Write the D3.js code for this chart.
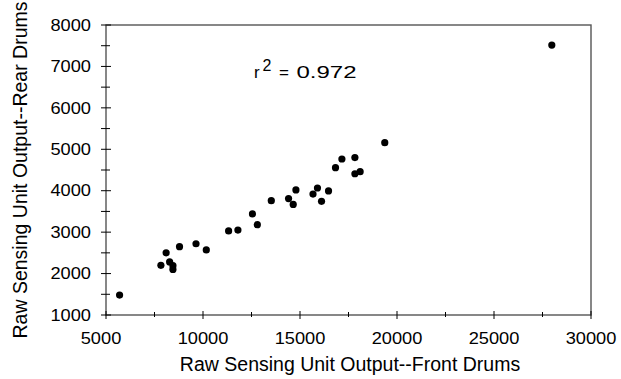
<!DOCTYPE html>
<meta charset="utf-8">
<style>
body { margin: 0; background: #fff; }
text { font-family: "Liberation Sans", Arial, sans-serif; fill: #000; }
</style>
<svg width="621" height="379"></svg>
<script src="https://cdn.jsdelivr.net/npm/d3@7"></script>
<script>

var frontDrums = [5700, 7830, 8100, 8280, 8450, 8450, 8790, 9640, 10170, 11320,
  11800, 12550, 12800, 13520, 14410, 14650, 14790, 15670, 15900, 16110,
  16470, 16830, 17160, 17830, 17830, 18100, 19370, 27980];
var rearDrums = [1480, 2200, 2500, 2280, 2190, 2100, 2650, 2720, 2570, 3030,
  3050, 3440, 3180, 3760, 3810, 3670, 4020, 3920, 4065, 3745,
  3995, 4555, 4765, 4800, 4410, 4460, 5160, 7515];
var xTicks = [5000, 10000, 15000, 20000, 25000, 30000];
var yTicks = [1000, 2000, 3000, 4000, 5000, 6000, 7000, 8000];
var rSquared = "0.972";

var svg = d3.select("svg");
var mLeft = 106, mRight = 591, mTop = 25, mBottom = 315;

var x = d3.scaleLinear().domain([5000, 30000]).range([mLeft, mRight]);
var y = d3.scaleLinear().domain([1000, 8000]).range([mBottom, mTop]);

var axisColor = "#555";
var stretch = 1.14;   // tick labels in the original are a bit wide

// frame
svg.append("rect")
    .attr("x", mLeft).attr("y", mTop)
    .attr("width", mRight - mLeft).attr("height", mBottom - mTop)
    .attr("fill", "none").attr("stroke", axisColor).attr("stroke-width", 1.4);

// x ticks (major + minor), crossing the axis
var xMinor = d3.range(7500, 30000, 5000);
svg.selectAll(".xmaj").data(xTicks).enter().append("line")
    .attr("x1", d => x(d)).attr("x2", d => x(d))
    .attr("y1", mBottom - 4).attr("y2", mBottom + 4)
    .attr("stroke", "#000");
svg.selectAll(".xmin").data(xMinor).enter().append("line")
    .attr("x1", d => x(d)).attr("x2", d => x(d))
    .attr("y1", mBottom - 3).attr("y2", mBottom + 2)
    .attr("stroke", "#000");
svg.selectAll(".xlab").data(xTicks).enter().append("text")
    .attr("transform", (d, i) => "translate(" + (x(d) - (i === 0 ? 5 : 0)) + "," + (mBottom + 29) + ") scale(" + stretch + ",1)")
    .attr("text-anchor", "middle").style("font-size", "16px")
    .text(d => d);

// y ticks
var yMinor = d3.range(1500, 8000, 1000);
svg.selectAll(".ymaj").data(yTicks).enter().append("line")
    .attr("x1", mLeft - 5).attr("x2", mLeft + 5)
    .attr("y1", d => y(d)).attr("y2", d => y(d))
    .attr("stroke", "#000");
svg.selectAll(".ymin").data(yMinor).enter().append("line")
    .attr("x1", mLeft - 5).attr("x2", mLeft + 4)
    .attr("y1", d => y(d)).attr("y2", d => y(d))
    .attr("stroke", "#000");
svg.selectAll(".ylab").data(yTicks).enter().append("text")
    .attr("transform", d => "translate(" + (mLeft - 15) + "," + (y(d) + 5.7) + ") scale(" + stretch + ",1)")
    .attr("text-anchor", "end").style("font-size", "16px")
    .text(d => d);

// points
svg.selectAll("circle").data(frontDrums).enter().append("circle")
    .attr("cx", d => x(d))
    .attr("cy", (d, i) => y(rearDrums[i]))
    .attr("r", 3.6)
    .attr("fill", "#000");

// r^2 annotation
var ann = svg.append("g").attr("transform", "translate(254,77.7)");
ann.append("text").attr("x", 0).text("r").style("font-size", "17px");
ann.append("text").attr("x", 8.5).attr("y", -6.3).text("2").style("font-size", "16px");
ann.append("text").attr("x", 25).text("=").style("font-size", "17px");
ann.append("text").attr("x", 42.5).text(rSquared).style("font-size", "17px")
    .attr("textLength", 60).attr("lengthAdjust", "spacingAndGlyphs");

// axis titles
svg.append("text")
    .attr("x", 350).attr("y", 371)
    .attr("text-anchor", "middle").style("font-size", "19.5px")
    .text("Raw Sensing Unit Output--Front Drums");
svg.append("text")
    .attr("transform", "translate(26.5," + ((mTop + mBottom) / 2) + ") rotate(-90)")
    .attr("text-anchor", "middle").style("font-size", "19.5px")
    .text("Raw Sensing Unit Output--Rear Drums");

</script>
